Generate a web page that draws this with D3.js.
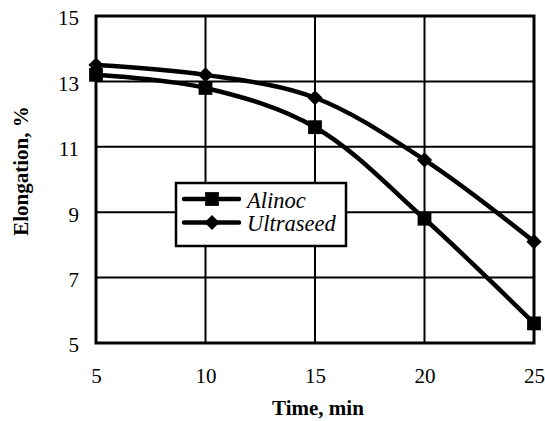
<!DOCTYPE html>
<html>
<head>
<meta charset="utf-8">
<script src="https://cdn.jsdelivr.net/npm/d3@7"></script>
<style>
  body { margin: 0; background: #fff; }
</style>
</head>
<body>
<svg width="545" height="421"></svg>
<script>
const times = [5, 10, 15, 20, 25];
const alinoc = [13.2, 12.8, 11.6, 8.8, 5.6];
const ultraseed = [13.5, 13.2, 12.5, 10.6, 8.1];
const xTicks = [5, 10, 15, 20, 25];
const yTicks = [5, 7, 9, 11, 13, 15];

const serif = "'Liberation Serif', 'Times New Roman', Times, serif";
const svg = d3.select('svg');
const plotLeft = 96, plotRight = 534, plotTop = 16, plotBottom = 343;

const x = d3.scaleLinear().domain([5, 25]).range([plotLeft, plotRight]);
const y = d3.scaleLinear().domain([5, 15]).range([plotBottom, plotTop]);

// grid
svg.append('g')
  .selectAll('line')
  .data(yTicks)
  .join('line')
  .attr('x1', plotLeft).attr('x2', plotRight)
  .attr('y1', d => y(d)).attr('y2', d => y(d))
  .attr('stroke', '#000').attr('stroke-width', 2);

svg.append('g')
  .selectAll('line')
  .data(xTicks)
  .join('line')
  .attr('y1', plotTop).attr('y2', plotBottom)
  .attr('x1', d => x(d)).attr('x2', d => x(d))
  .attr('stroke', '#000').attr('stroke-width', 2);

// frame
svg.append('rect')
  .attr('x', plotLeft).attr('y', plotTop)
  .attr('width', plotRight - plotLeft).attr('height', plotBottom - plotTop)
  .attr('fill', 'none').attr('stroke', '#000').attr('stroke-width', 3);

// tick labels
const yAxis = d3.axisLeft(y).tickValues(yTicks).tickSize(0).tickPadding(17);
svg.append('g')
  .attr('transform', `translate(${plotLeft},0)`)
  .call(yAxis)
  .call(g => g.select('.domain').remove())
  .selectAll('text')
  .attr('dy', '0.42em')
  .style('font-family', serif)
  .style('font-size', '21px')
  .attr('fill', '#000');

const xAxis = d3.axisBottom(x).tickValues(xTicks).tickSize(0).tickPadding(25);
svg.append('g')
  .attr('transform', `translate(0,${plotBottom})`)
  .call(xAxis)
  .call(g => g.select('.domain').remove())
  .selectAll('text')
  .style('font-family', serif)
  .style('font-size', '21px')
  .attr('fill', '#000');

// axis titles
svg.append('text')
  .attr('x', 318).attr('y', 415)
  .attr('text-anchor', 'middle')
  .style('font-family', serif)
  .style('font-weight', 'bold')
  .style('font-size', '21px')
  .text('Time, min');

svg.append('text')
  .attr('transform', 'translate(28,171) rotate(-90)')
  .attr('text-anchor', 'middle')
  .style('font-family', serif)
  .style('font-weight', 'bold')
  .style('font-size', '21px')
  .text('Elongation, %');

// lines
const line = d3.line()
  .x((d, i) => x(times[i]))
  .y(d => y(d))
  .curve(d3.curveCatmullRom.alpha(0.5));

const square = d3.symbol().type(d3.symbolSquare).size(190);
const diamond = d3.symbol().type(d3.symbolSquare).size(115);

svg.append('path')
  .attr('d', line(alinoc))
  .attr('fill', 'none').attr('stroke', '#000').attr('stroke-width', 4.5);
svg.append('path')
  .attr('d', line(ultraseed))
  .attr('fill', 'none').attr('stroke', '#000').attr('stroke-width', 4.5);

svg.append('g')
  .selectAll('path')
  .data(alinoc)
  .join('path')
  .attr('d', square)
  .attr('transform', (d, i) => `translate(${x(times[i])},${y(d)})`)
  .attr('fill', '#000');

svg.append('g')
  .selectAll('path')
  .data(ultraseed)
  .join('path')
  .attr('d', diamond)
  .attr('transform', (d, i) => `translate(${x(times[i])},${y(d)}) rotate(45)`)
  .attr('fill', '#000');

// legend
const legend = svg.append('g');
legend.append('rect')
  .attr('x', 176).attr('y', 183)
  .attr('width', 170).attr('height', 63)
  .attr('fill', '#fff').attr('stroke', '#000').attr('stroke-width', 2.5);

const items = [
  { name: 'Alinoc', sym: square, rot: 0, y: 199 },
  { name: 'Ultraseed', sym: diamond, rot: 45, y: 222.5 }
];
items.forEach(it => {
  legend.append('line')
    .attr('x1', 184).attr('x2', 239)
    .attr('y1', it.y).attr('y2', it.y)
    .attr('stroke', '#000').attr('stroke-width', 4.5)
    .attr('stroke-linecap', 'round');
  legend.append('path')
    .attr('d', it.sym)
    .attr('transform', `translate(212,${it.y}) rotate(${it.rot})`)
    .attr('fill', '#000');
  legend.append('text')
    .attr('x', 247).attr('y', it.y + 8.5)
    .style('font-family', serif)
    .style('font-style', 'italic')
    .style('font-size', '22.5px')
    .text(it.name);
});
</script>
</body>
</html>
